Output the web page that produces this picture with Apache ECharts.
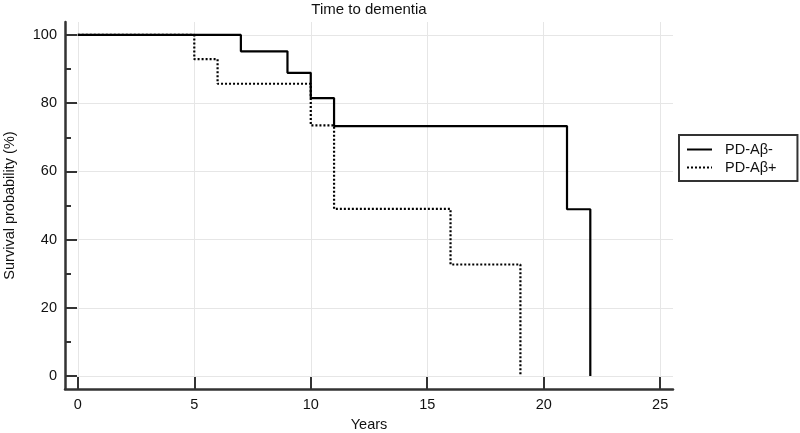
<!DOCTYPE html>
<html>
<head>
<meta charset="utf-8">
<script src="https://cdn.jsdelivr.net/npm/echarts@6/dist/echarts.min.js"></script>
<style>html,body{margin:0;padding:0;background:#fff}#c{width:800px;height:433px}</style>
</head>
<body>
<div id="c"></div>
<script>
const xTicks = [0, 5, 10, 15, 20, 25];
const yTicks = [0, 20, 40, 60, 80, 100];
const negYears = [0, 7, 9, 10, 11, 21, 22];
const negSurv = [100, 95.2, 88.9, 81.5, 73.3, 48.9, 0];
const posYears = [0, 5, 6, 10, 11, 16, 19];
const posSurv = [100, 92.9, 85.7, 73.5, 49.0, 32.7, 0];
const seriesNames = ['PD-Aβ-', 'PD-Aβ+'];

const font = '"Liberation Sans", Arial, sans-serif';
const pair = (xs, ys) => xs.map((x, i) => [x, ys[i]]);

const chart = echarts.init(document.getElementById('c'), null, {renderer: 'canvas'});
chart.setOption({
  animation: false,
  backgroundColor: '#fff',
  textStyle: {fontFamily: font},
  title: {
    text: 'Time to dementia',
    left: 369, textAlign: 'center', top: 2, padding: 0,
    textStyle: {fontFamily: font, fontSize: 15, fontWeight: 'normal', color: '#111'}
  },
  grid: {left: 65, right: 127, top: 22, bottom: 44, containLabel: false, outerBoundsMode: 'none'},
  legend: {
    orient: 'vertical', left: 679, top: 135,
    borderColor: '#333', borderWidth: 2, padding: [7, 21, 6, 7],
    itemWidth: 25, itemHeight: 14, itemGap: 3,
    itemStyle: {opacity: 0, color: 'transparent', borderWidth: 0},
    textStyle: {fontFamily: font, fontSize: 14.5, color: '#111', padding: [0, 0, 0, 8]},
    data: seriesNames
  },
  xAxis: {
    type: 'value', min: -0.55, max: 25.55,
    name: 'Years', nameLocation: 'middle', nameGap: 28,
    nameTextStyle: {fontFamily: font, fontSize: 14.5, color: '#111'},
    axisLine: {show: true, onZero: false, lineStyle: {color: '#333', width: 2.5}},
    axisTick: {show: true, inside: true, length: 12, customValues: xTicks, lineStyle: {color: '#333', width: 2}},
    axisLabel: {customValues: xTicks, margin: 8, fontFamily: font, fontSize: 14.5, color: '#111'},
    splitLine: {show: true, lineStyle: {color: '#e6e6e6', width: 1}}
  },
  yAxis: {
    type: 'value', min: -3.8, max: 103.8,
    name: 'Survival probability (%)', nameLocation: 'middle', nameGap: 48,
    nameTextStyle: {fontFamily: font, fontSize: 14.5, color: '#111'},
    axisLine: {show: true, onZero: false, lineStyle: {color: '#333', width: 2.5}},
    axisTick: {show: true, inside: true, length: 12, customValues: yTicks, lineStyle: {color: '#333', width: 2}},
    minorTick: {show: true, splitNumber: 2, length: 6, lineStyle: {color: '#333', width: 2}},
    axisLabel: {customValues: yTicks, margin: 8, fontFamily: font, fontSize: 14.5, color: '#111'},
    splitLine: {show: true, lineStyle: {color: '#e6e6e6', width: 1}}
  },
  series: [
    {
      name: seriesNames[0], type: 'line', step: 'end', symbol: 'none',
      data: pair(negYears, negSurv),
      itemStyle: {color: '#000'},
      lineStyle: {color: '#000', width: 2.2, type: 'solid'}
    },
    {
      name: seriesNames[1], type: 'line', step: 'end', symbol: 'none',
      data: pair(posYears, posSurv),
      itemStyle: {color: '#000'},
      lineStyle: {color: '#000', width: 2.2, type: [2, 2]}
    }
  ]
});
</script>
</body>
</html>
